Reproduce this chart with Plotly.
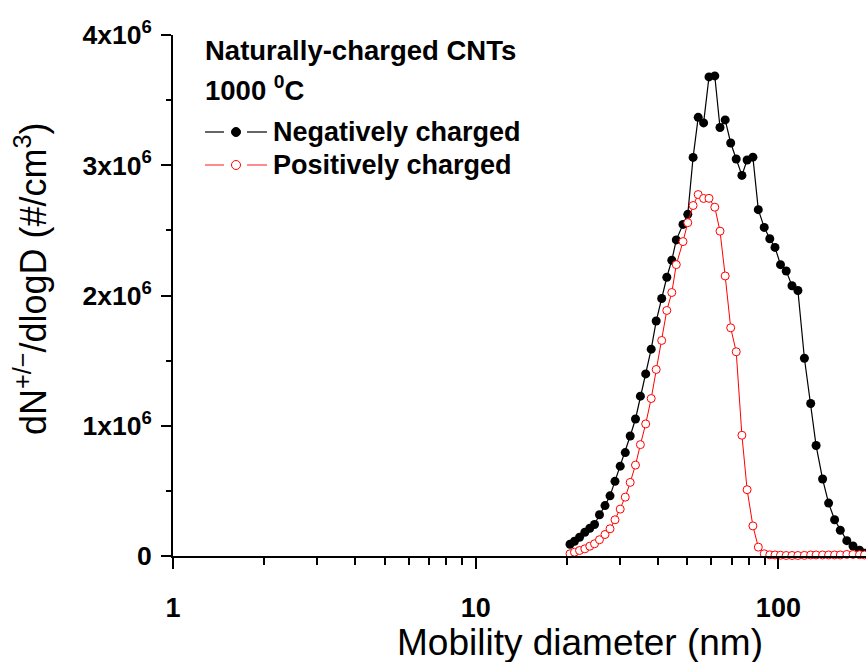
import plotly.graph_objects as go

# ---------------- data ----------------
diameter_nm = [20.49, 21.20, 22.03, 22.94, 23.82, 24.69, 25.64, 26.74, 27.78, 28.85,
               30.02, 31.20, 32.39, 33.72, 35.00, 36.44, 38.00, 39.47, 41.16, 42.79,
               44.45, 45.99, 48.40, 50.19, 52.26, 54.33, 56.61, 58.98, 61.64, 64.13,
               66.72, 69.57, 72.55, 75.77, 78.82, 82.37, 85.82, 89.76, 93.66, 97.45,
               101.61, 106.11, 110.90, 115.99, 121.87, 127.85, 133.21, 139.97, 146.50, 153.34,
               160.14, 168.26, 176.40, 185.35, 192.53]

negatively_charged = [0.090e6, 0.113e6, 0.144e6, 0.182e6, 0.213e6, 0.242e6, 0.317e6, 0.387e6, 0.462e6, 0.573e6,
                      0.690e6, 0.794e6, 0.921e6, 1.052e6, 1.227e6, 1.398e6, 1.588e6, 1.804e6, 1.977e6, 2.140e6,
                      2.271e6, 2.427e6, 2.546e6, 2.623e6, 3.060e6, 3.368e6, 3.325e6, 3.678e6, 3.686e6, 3.290e6,
                      3.348e6, 3.171e6, 3.048e6, 2.922e6, 3.040e6, 3.062e6, 2.659e6, 2.523e6, 2.436e6, 2.369e6,
                      2.237e6, 2.188e6, 2.075e6, 2.038e6, 1.518e6, 1.171e6, 0.848e6, 0.591e6, 0.406e6, 0.278e6,
                      0.198e6, 0.118e6, 0.077e6, 0.045e6, 0.022e6]

positively_charged = [0.017e6, 0.029e6, 0.042e6, 0.055e6, 0.075e6, 0.094e6, 0.125e6, 0.165e6, 0.209e6, 0.278e6,
                      0.360e6, 0.452e6, 0.565e6, 0.698e6, 0.855e6, 1.014e6, 1.209e6, 1.432e6, 1.655e6, 1.885e6,
                      2.023e6, 2.237e6, 2.414e6, 2.559e6, 2.691e6, 2.775e6, 2.745e6, 2.746e6, 2.678e6, 2.494e6,
                      2.150e6, 1.752e6, 1.568e6, 0.927e6, 0.509e6, 0.231e6, 0.068e6, 0.017e6, 0.009e6, 0.008e6,
                      0.006e6, 0.004e6, 0.004e6, 0.004e6, 0.005e6, 0.008e6, 0.008e6, 0.008e6, 0.008e6, 0.008e6,
                      0.008e6, 0.012e6, 0.012e6, 0.010e6, 0.008e6]

y_tickvals = [0, 1e6, 2e6, 3e6, 4e6]
y_ticktext = ["0", "1x10<sup>6</sup>", "2x10<sup>6</sup>", "3x10<sup>6</sup>", "4x10<sup>6</sup>"]
x_tickvals = [1, 10, 100]
x_ticktext = ["1", "10", "100"]
x_minor_vals = [2, 3, 4, 5, 6, 7, 8, 9, 20, 30, 40, 50, 60, 70, 80, 90, 200]

series_names = ["Negatively charged", "Positively charged"]
header_lines = ["Naturally-charged CNTs", "1000 <sup>0</sup>C"]

# ---------------- layout geometry ----------------
W, H = 866, 662
ML, MR, MT, MB = 173, 0, 35, 106
PW, PH = W - ML - MR, H - MT - MB
DECADE_PX = 302.7

def fx(px):
    return (px - ML) / PW

def fy(py):
    return (H - MB - py) / PH

FONT = "Liberation Sans, Arial, sans-serif"

fig = go.Figure()
fig.add_trace(go.Scatter(
    x=diameter_nm, y=negatively_charged, mode="lines+markers", name=series_names[0],
    line=dict(color="black", width=1.2),
    marker=dict(symbol="circle", size=9, color="black", line=dict(width=0)),
    cliponaxis=False, showlegend=False))
fig.add_trace(go.Scatter(
    x=diameter_nm, y=positively_charged, mode="lines+markers", name=series_names[1],
    line=dict(color="#ff0000", width=1),
    marker=dict(symbol="circle", size=8, color="white", line=dict(color="#ff0000", width=1)),
    cliponaxis=False, showlegend=False))

shapes = []
annotations = []

# legend drawn by hand (Origin style)
rows = [(132, "black", "black", series_names[0]), (165, "#ff4040", "white", series_names[1])]
for py, lc, fc, name in rows:
    for x0, x1 in [(205, 224), (247, 267)]:
        shapes.append(dict(type="line", xref="paper", yref="paper",
                           x0=fx(x0), x1=fx(x1), y0=fy(py), y1=fy(py),
                           line=dict(color=lc, width=1.2)))
    shapes.append(dict(type="circle", xref="paper", yref="paper",
                       xsizemode="pixel", ysizemode="pixel",
                       xanchor=fx(236), yanchor=fy(py), x0=-4.5, x1=4.5, y0=-4.5, y1=4.5,
                       fillcolor=fc, line=dict(color="red" if fc == "white" else "black", width=1)))
    annotations.append(dict(text="<b>%s</b>" % name, xref="paper", yref="paper",
                            x=fx(271), y=fy(py), xanchor="left", yanchor="middle",
                            showarrow=False, font=dict(family=FONT, size=27, color="black")))

for py, txt in [(50, header_lines[0]), (88, header_lines[1])]:
    annotations.append(dict(text="<b>%s</b>" % txt, xref="paper", yref="paper",
                            x=fx(203), y=fy(py), xanchor="left", yanchor="middle",
                            showarrow=False, font=dict(family=FONT, size=27.5, color="black")))

annotations.append(dict(text="Mobility diameter (nm)", xref="paper", yref="paper",
                        x=fx(579.5), y=fy(642), xanchor="center", yanchor="middle",
                        showarrow=False, font=dict(family=FONT, size=37, color="black")))
annotations.append(dict(text="dN<sup>+/\u2212</sup>/dlogD (#/cm<sup>3</sup>)", xref="paper", yref="paper",
                        x=fx(31), y=fy(279), xanchor="center", yanchor="middle", textangle=-90,
                        showarrow=False, font=dict(family=FONT, size=36, color="black")))

fig.update_layout(
    width=W, height=H, margin=dict(l=ML, r=MR, t=MT, b=MB, pad=0),
    paper_bgcolor="white", plot_bgcolor="white",
    shapes=shapes, annotations=annotations, showlegend=False,
    xaxis=dict(type="log", range=[0, PW / DECADE_PX], showgrid=False, zeroline=False,
               showline=True, linecolor="black", linewidth=2,
               ticks="outside", ticklen=11, tickwidth=2, tickcolor="black",
               tickvals=x_tickvals, ticktext=x_ticktext, ticklabelstandoff=16,
               tickfont=dict(family=FONT, size=27, color="black", weight="bold"),
               minor=dict(ticks="outside", ticklen=7, tickwidth=1.5, tickcolor="black",
                          tickvals=x_minor_vals, showgrid=False)),
    yaxis=dict(range=[0, 4e6], showgrid=False, zeroline=False,
               showline=True, linecolor="black", linewidth=2,
               ticks="outside", ticklen=10, tickwidth=2, tickcolor="black",
               tickvals=y_tickvals, ticktext=y_ticktext, ticklabelstandoff=4,
               tickfont=dict(family=FONT, size=26.5, color="black", weight="bold"),
               minor=dict(ticks="outside", ticklen=5, tickwidth=1.5, tickcolor="black",
                          dtick=0.5e6, showgrid=False)),
)

fig.write_html("out.html")
